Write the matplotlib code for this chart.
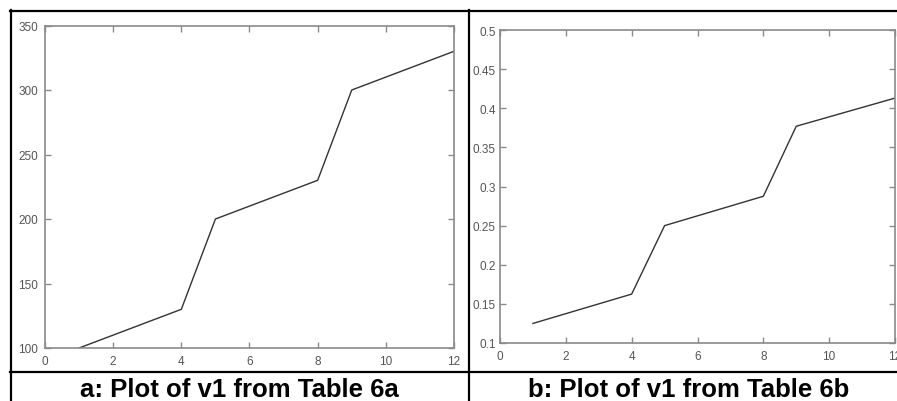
import matplotlib
matplotlib.use("Agg")
import matplotlib.pyplot as plt
from matplotlib.lines import Line2D

plt.rcParams['font.family'] = ['Liberation Sans', 'DejaVu Sans']

# Data
months = [1, 2, 3, 4, 5, 6, 7, 8, 9, 10, 11, 12]
v1_table6a = [100, 110, 120, 130, 200, 210, 220, 230, 300, 310, 320, 330]
v1_table6b = [0.125, 0.1375, 0.15, 0.1625, 0.25, 0.2625, 0.275, 0.2875,
              0.377, 0.389, 0.401, 0.413]
xticks = [0, 2, 4, 6, 8, 10, 12]
yticks_a = [100, 150, 200, 250, 300, 350]
yticks_b = [0.1, 0.15, 0.2, 0.25, 0.3, 0.35, 0.4, 0.45, 0.5]
ytick_labels_b = ['0.1', '0.15', '0.2', '0.25', '0.3', '0.35', '0.4', '0.45', '0.5']
captions = ['a: Plot of v1 from Table 6a', 'b: Plot of v1 from Table 6b']

W, H = 897, 402
fig = plt.figure(figsize=(W / 100, H / 100), dpi=100)

def px_axes(l, t, r, b):
    return fig.add_axes([l / W, 1 - b / H, (r - l) / W, (b - t) / H])

frame_col = '#8a8a8a'
label_col = '#555555'
line_col = '#333333'

def style(ax, ypad):
    for s in ax.spines.values():
        s.set_color(frame_col)
        s.set_linewidth(1.2)
    ax.tick_params(direction='in', top=True, right=True, length=4,
                   width=1.0, color=frame_col, labelcolor=label_col,
                   labelsize=8.5)
    ax.tick_params(axis='x', pad=5)
    ax.tick_params(axis='y', pad=ypad)

ax1 = px_axes(45, 26.5, 454, 349)
ax1.plot(months, v1_table6a, color=line_col, linewidth=1.0)
ax1.set_xlim(0, 12)
ax1.set_ylim(100, 350)
ax1.set_xticks(xticks)
ax1.set_yticks(yticks_a)
style(ax1, 5)

ax2 = px_axes(500, 31, 895, 344)
ax2.plot(months, v1_table6b, color=line_col, linewidth=1.0)
ax2.set_xlim(0, 12)
ax2.set_ylim(0.1, 0.5)
ax2.set_xticks(xticks)
ax2.set_yticks(yticks_b)
ax2.set_yticklabels(ytick_labels_b)
style(ax2, 3)

# Table borders
def hline(y, x0, x1):
    fig.add_artist(Line2D([x0 / W, x1 / W], [1 - y / H, 1 - y / H],
                          transform=fig.transFigure, color='black', linewidth=1.6))

def vline(x, y0, y1):
    fig.add_artist(Line2D([x / W, x / W], [1 - y0 / H, 1 - y1 / H],
                          transform=fig.transFigure, color='black', linewidth=1.6))

hline(12, 10, W)
hline(372.5, 10, W)
vline(10.5, 11, H)
vline(469, 11, H)

fig.text(239 / W, 1 - 397 / H, captions[0], ha='center', va='baseline',
         fontsize=18.5, fontweight='bold', color='black')
fig.text(689 / W, 1 - 397 / H, captions[1], ha='center', va='baseline',
         fontsize=18.5, fontweight='bold', color='black')

fig.savefig('out.png', dpi=100)
